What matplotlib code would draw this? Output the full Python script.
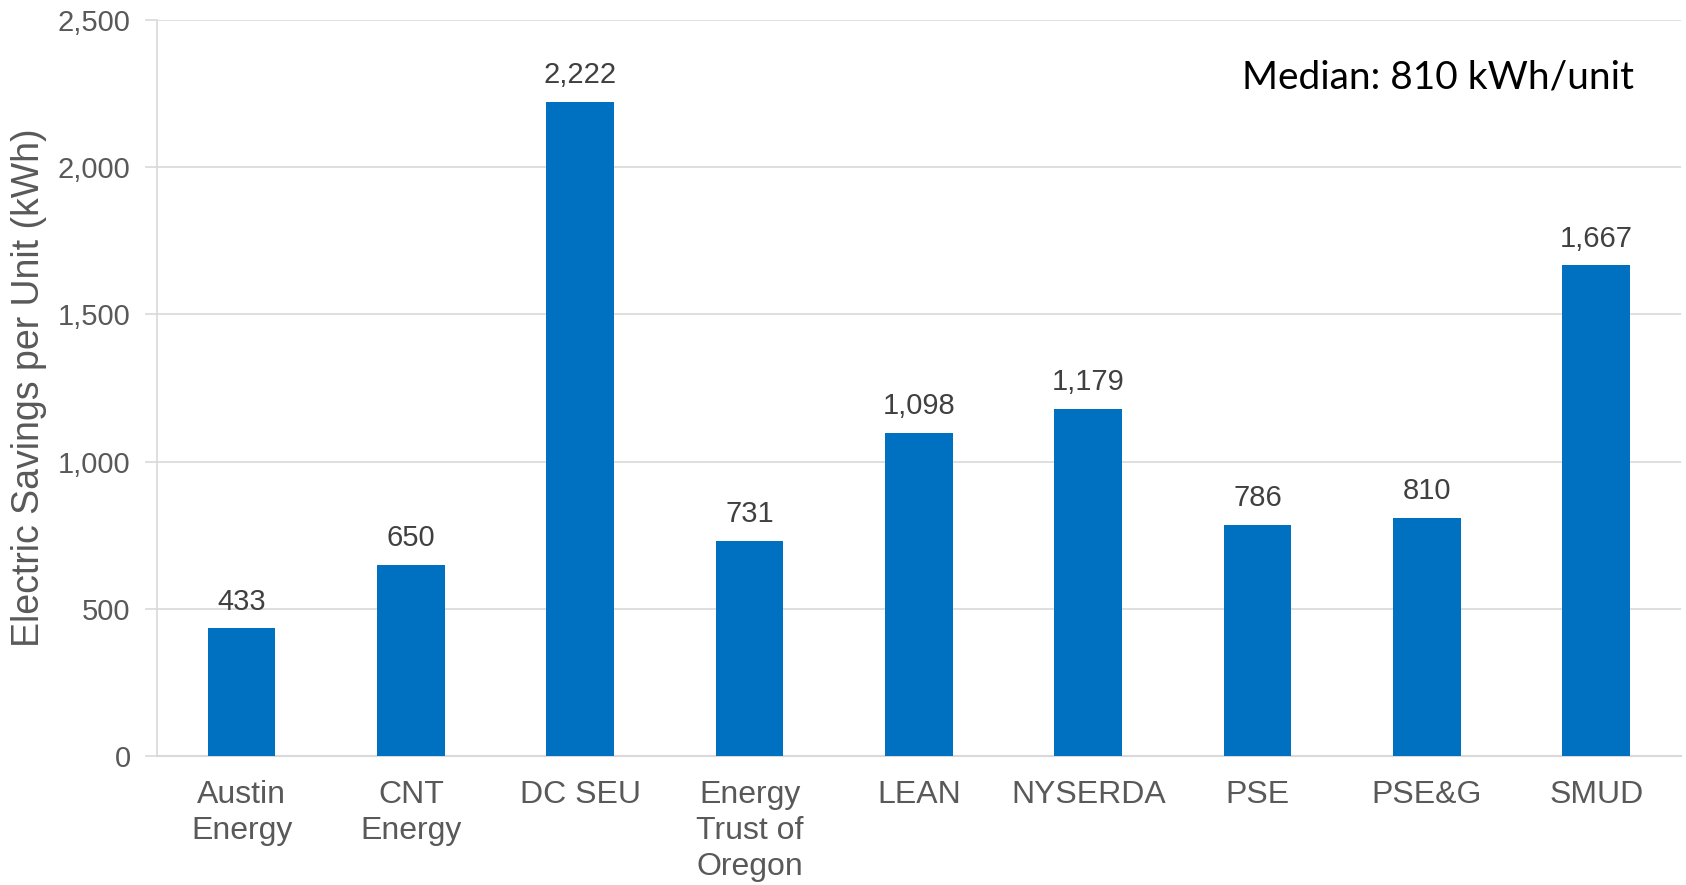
import matplotlib
matplotlib.use('Agg')
import matplotlib.pyplot as plt
from matplotlib.ticker import FuncFormatter

programs = ['Austin\nEnergy', 'CNT\nEnergy', 'DC SEU', 'Energy\nTrust of\nOregon',
            'LEAN', 'NYSERDA', 'PSE', 'PSE&G', 'SMUD']
savings = [433, 650, 2222, 731, 1098, 1179, 786, 810, 1667]
yticks = [0, 500, 1000, 1500, 2000, 2500]
median_text = 'Median: 810 kWh/unit'

plt.rcParams['font.family'] = ['Liberation Sans', 'DejaVu Sans']

fig = plt.figure(figsize=(16.86, 8.85), dpi=100)
ax = fig.add_axes([0.0931, 0.1458, 0.9039, 0.8316])

x = range(len(programs))
bars = ax.bar(x, savings, width=0.4, color='#0070C0', zorder=3)

for xi, v in zip(x, savings):
    ax.annotate('{:,}'.format(v), (xi, v), xytext=(0, 9), textcoords='offset points',
                ha='center', va='bottom', fontsize=21, color='#404040')

ax.set_xlim(-0.5, len(programs) - 0.5)
ax.set_ylim(0, 2500)
ax.set_yticks(yticks)
ax.yaxis.set_major_formatter(FuncFormatter(lambda v, p: '{:,}'.format(int(v))))
ax.set_xticks(list(x))
ax.set_xticklabels(programs, fontsize=23, color='#595959', linespacing=1.28)
ax.tick_params(axis='x', length=0, pad=17)
ax.tick_params(axis='y', length=9, width=1.2, color='#d9d9d9', labelsize=21,
               labelcolor='#595959', pad=10)
ax.grid(axis='y', color='#d9d9d9', linewidth=1.2, zorder=0)

for s in ['top', 'right']:
    ax.spines[s].set_visible(False)
ax.spines['left'].set_color('#d9d9d9')
ax.spines['left'].set_linewidth(1.2)
ax.spines['bottom'].set_color('#d9d9d9')
ax.spines['bottom'].set_linewidth(1.5)

ax.set_ylabel('Electric Savings per Unit (kWh)', fontsize=27, color='#595959', labelpad=8)

fig.text(1634 / 1686, 1 - 88 / 885, median_text, ha='right', va='baseline',
         fontsize=28, color='black', family=['Lato', 'DejaVu Sans'])

fig.savefig('out.png', dpi=100)
